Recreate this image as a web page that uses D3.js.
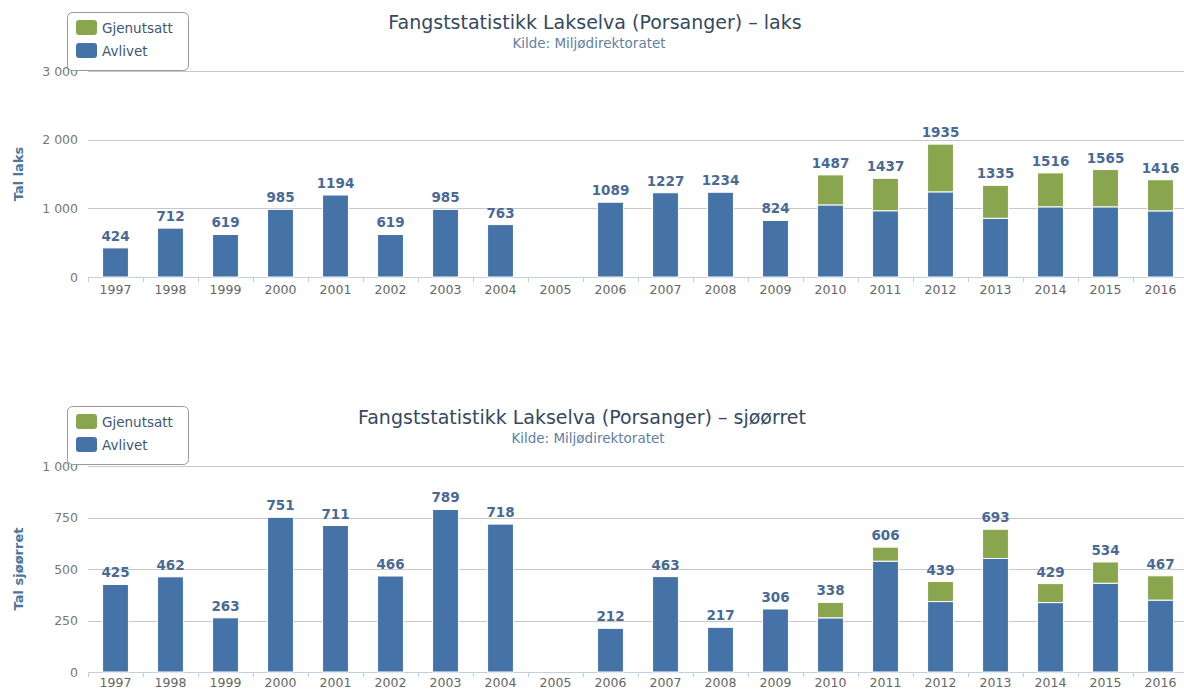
<!DOCTYPE html>
<html>
<head>
<meta charset="utf-8">
<script src="https://cdn.jsdelivr.net/npm/d3@7"></script>
<style>
  body { margin: 0; background: #fff; }
  svg { display: block; font-family: "DejaVu Sans", Verdana, sans-serif; }
</style>
</head>
<body>
<svg id="chart" width="1184" height="690"></svg>
<script>
const years = ["1997","1998","1999","2000","2001","2002","2003","2004","2005","2006",
  "2007","2008","2009","2010","2011","2012","2013","2014","2015","2016"];

// laks
const laksAvlivet = [424, 712, 619, 985, 1194, 619, 985, 763, null, 1089,
  1227, 1234, 824, 1050, 965, 1240, 855, 1022, 1022, 963];
const laksGjenutsatt = [0, 0, 0, 0, 0, 0, 0, 0, null, 0,
  0, 0, 0, 437, 472, 695, 480, 494, 543, 453];
const laksTicks = [0, 1000, 2000, 3000];

// sjøørret
const sjoAvlivet = [425, 462, 263, 751, 711, 466, 789, 718, null, 212,
  463, 217, 306, 263, 538, 342, 551, 337, 431, 349];
const sjoGjenutsatt = [0, 0, 0, 0, 0, 0, 0, 0, null, 0,
  0, 0, 0, 75, 68, 97, 142, 92, 103, 118];
const sjoTicks = [0, 250, 500, 750, 1000];

const seriesNames = ["Gjenutsatt", "Avlivet"];
const colors = { Avlivet: "#4572A7", Gjenutsatt: "#89A54E" };

const svg = d3.select("#chart");
const fmt = v => d3.format(",")(v).replace(/,/g, " ");

function drawChart(opt) {
  const g = svg.append("g").attr("transform", `translate(0,${opt.top})`);
  const x0 = 88, x1 = 1188;
  const yTop = 71, yBot = 277;

  const x = d3.scaleBand().domain(years).range([x0, x1]).paddingInner(0.53).paddingOuter(0.265);
  const y = d3.scaleLinear().domain([0, opt.max]).range([yBot, yTop]);

  // title
  g.append("text").attr("x", opt.titleX).attr("y", 29).attr("text-anchor", "middle")
    .attr("font-size", 19).attr("fill", "#34495e").text(opt.title);
  g.append("text").attr("x", opt.subX).attr("y", 48).attr("text-anchor", "middle")
    .attr("font-size", 13.5).attr("fill", "#5f7fa3").text("Kilde: Miljødirektoratet");

  // grid + y labels
  g.append("g").selectAll("line").data(opt.ticks).join("line")
    .attr("x1", x0).attr("x2", 1184)
    .attr("y1", d => Math.round(y(d)) + 0.5).attr("y2", d => Math.round(y(d)) + 0.5)
    .attr("stroke", "#C8C8C8");
  g.append("g").selectAll("text").data(opt.ticks).join("text")
    .attr("x", 78).attr("y", d => y(d) + 4.5).attr("text-anchor", "end")
    .attr("font-size", 12.5).attr("fill", "#777").text(fmt);

  // y title
  g.append("text")
    .attr("transform", `translate(23,${(yTop + yBot) / 2}) rotate(-90)`)
    .attr("text-anchor", "middle").attr("font-size", 13).attr("font-weight", "bold")
    .attr("fill", "#4d759e").text(opt.yTitle);

  // x axis
  g.append("line").attr("x1", x0).attr("x2", 1184).attr("y1", yBot + 0.5).attr("y2", yBot + 0.5)
    .attr("stroke", "#C0D0E0");
  g.append("g").selectAll("line").data(d3.range(years.length + 1)).join("line")
    .attr("x1", i => Math.round(x0 + i * x.step()) + 0.5).attr("x2", i => Math.round(x0 + i * x.step()) + 0.5)
    .attr("y1", yBot).attr("y2", yBot + 5).attr("stroke", "#C0D0E0");
  g.append("g").selectAll("text").data(years).join("text")
    .attr("x", d => x(d) + x.bandwidth() / 2).attr("y", yBot + opt.labelDy)
    .attr("text-anchor", "middle").attr("font-size", 12.5).attr("fill", "#666").text(d => d);

  // stacked bars
  const rows = years.map((yr, i) => ({ year: yr, Avlivet: opt.avlivet[i] || 0, Gjenutsatt: opt.gjen[i] || 0 }));
  const stack = d3.stack().keys(["Avlivet", "Gjenutsatt"])(rows);
  g.append("g").selectAll("g").data(stack).join("g")
    .attr("fill", d => colors[d.key])
    .selectAll("rect").data(d => d.filter(p => p[1] > p[0])).join("rect")
    .attr("x", p => x(p.data.year)).attr("width", x.bandwidth())
    .attr("y", p => y(p[1])).attr("height", p => y(p[0]) - y(p[1]))
    .attr("stroke", "#fff").attr("stroke-width", 1);

  // totals
  g.append("g").selectAll("text").data(rows.filter(r => r.Avlivet + r.Gjenutsatt > 0)).join("text")
    .attr("x", r => x(r.year) + x.bandwidth() / 2)
    .attr("y", r => y(r.Avlivet + r.Gjenutsatt) - 7)
    .attr("text-anchor", "middle").attr("font-size", 13.5).attr("font-weight", "bold")
    .attr("fill", "#4a6a96").text(r => r.Avlivet + r.Gjenutsatt);

  // legend
  const lg = g.append("g").attr("transform", `translate(67,${opt.legendY})`);
  lg.append("rect").attr("x", 0.5).attr("y", 0.5).attr("width", 121).attr("height", 58)
    .attr("rx", 5).attr("fill", "#fff").attr("stroke", "#999");
  seriesNames.forEach((name, i) => {
    lg.append("rect").attr("x", 9).attr("y", 8 + i * 23).attr("width", 21).attr("height", 15)
      .attr("rx", 3).attr("fill", colors[name]);
    lg.append("text").attr("x", 35).attr("y", 21 + i * 23).attr("font-size", 13.5)
      .attr("fill", "#3E576F").text(name);
  });
}

drawChart({ top: 0, title: "Fangststatistikk Lakselva (Porsanger) – laks", titleX: 595, subX: 589,
  yTitle: "Tal laks", max: 3000, ticks: laksTicks, avlivet: laksAvlivet, gjen: laksGjenutsatt,
  legendY: 12, labelDy: 17 });
drawChart({ top: 395, title: "Fangststatistikk Lakselva (Porsanger) – sjøørret", titleX: 582, subX: 588,
  yTitle: "Tal sjøørret", max: 1000, ticks: sjoTicks, avlivet: sjoAvlivet, gjen: sjoGjenutsatt,
  legendY: 11, labelDy: 14.5 });
</script>
</body>
</html>
